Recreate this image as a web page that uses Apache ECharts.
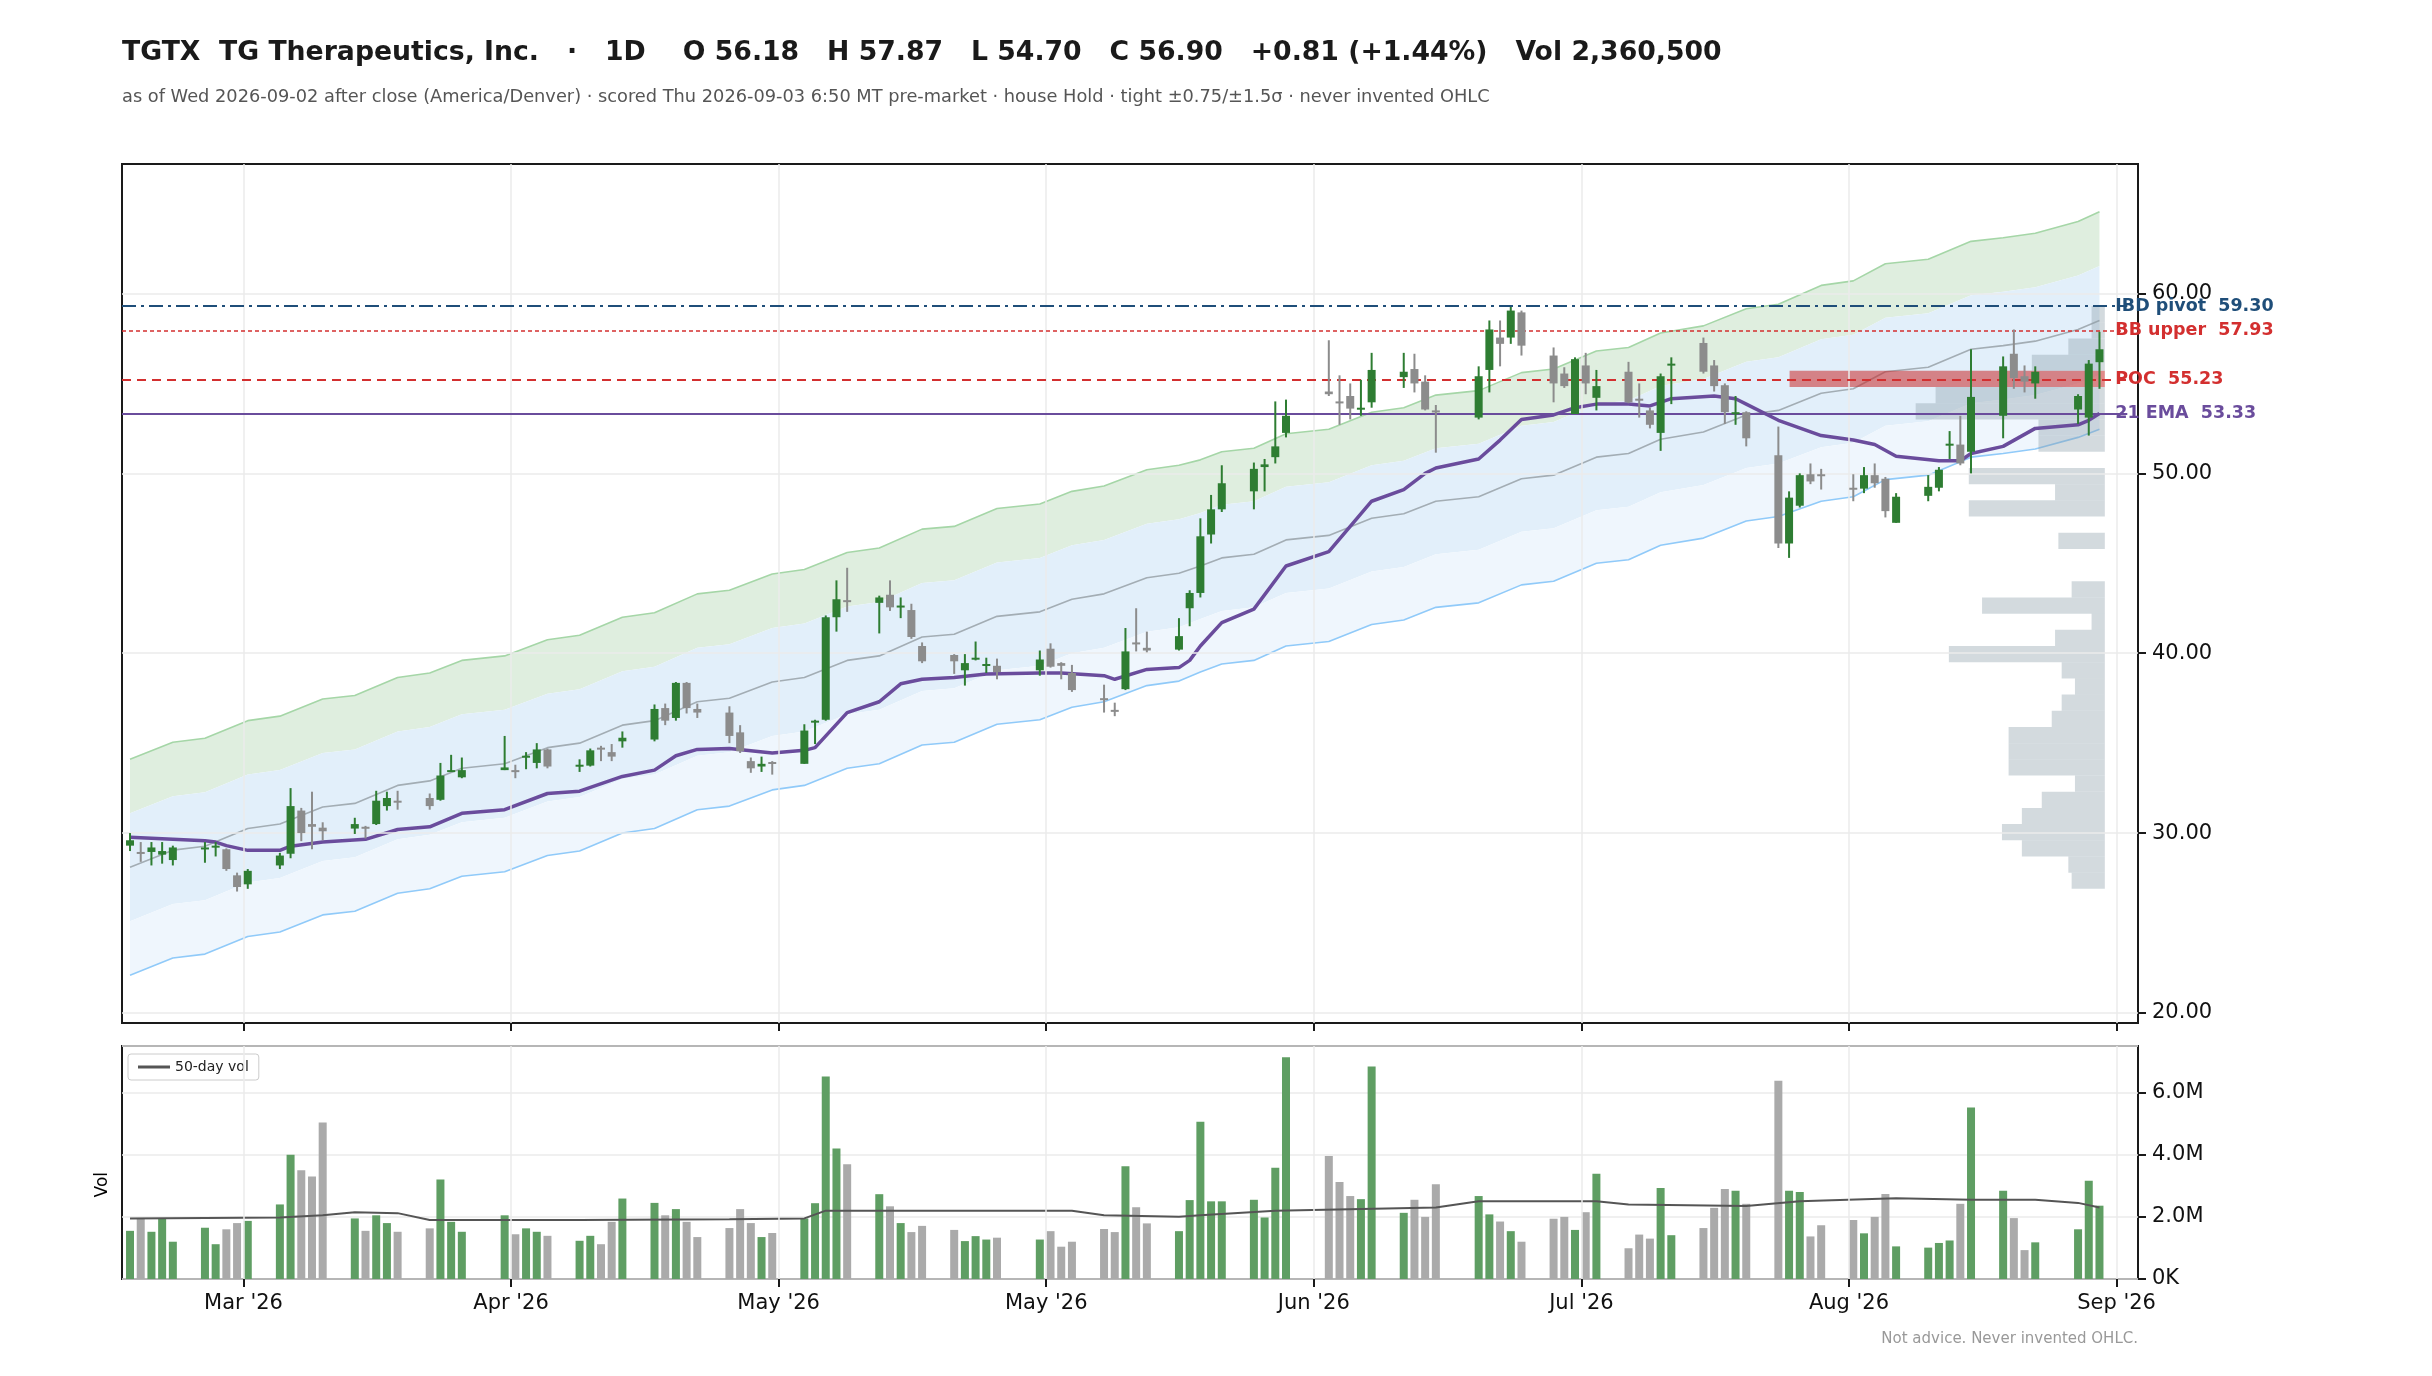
<!DOCTYPE html>
<html><head><meta charset="utf-8">
<script src="https://cdn.jsdelivr.net/npm/echarts@6/dist/echarts.min.js"></script>
<style>html,body{margin:0;padding:0;background:#fff}#c{width:2432px;height:1376px}</style>
</head><body><div id="c"></div>
<script>
// ---- data (day index: 0 = Mon 2026-03-02 ... 184 = Wed 2026-09-02) ----
const days   = [0,1,2,3,4,7,8,9,10,11,14,15,16,17,18,21,22,23,24,25,28,29,30,31,35,36,37,38,39,42,43,44,45,46,49,50,51,52,53,56,57,58,59,60,63,64,65,66,67,70,71,72,73,74,77,78,79,80,81,85,86,87,88,91,92,93,94,95,98,99,100,101,102,105,106,107,108,112,113,114,115,116,119,120,121,122,126,127,128,129,130,133,134,135,136,137,140,141,142,143,144,147,148,149,150,151,154,155,156,157,158,161,162,163,164,165,168,169,170,171,172,175,176,177,178,182,183,184];
const opens  = [29.3,28.95,28.95,28.8,28.5,29.1,29.25,29.1,27.65,27.15,28.2,28.85,31.25,30.5,30.3,30.25,30.35,30.5,31.5,31.8,31.95,31.85,33.4,33.1,33.5,33.5,34.2,33.9,34.65,33.7,33.75,34.75,34.5,35.1,35.2,36.95,36.4,38.35,36.9,36.7,35.6,34.0,33.7,33.95,33.85,36.15,36.3,42.0,42.95,42.8,43.25,42.55,42.4,40.4,39.9,39.05,39.65,39.3,39.3,39.05,40.25,39.45,38.9,37.5,36.85,38.0,40.6,40.3,40.2,42.5,43.35,46.6,48.0,49.0,50.35,50.9,52.25,54.55,54.0,54.3,53.55,53.95,55.35,55.8,55.1,53.5,53.1,55.75,57.55,57.55,58.95,56.55,55.55,53.3,56.0,54.2,55.65,54.15,53.5,52.25,56.05,57.25,56.0,54.9,53.35,53.4,51.0,46.1,48.2,49.95,49.95,49.2,49.15,49.9,49.7,47.25,48.75,49.2,51.6,51.6,51.2,53.2,56.65,55.4,55.0,53.55,53.1,56.18];
const closes = [29.6,28.9,29.2,29.0,29.2,29.2,29.3,28.0,27.0,27.9,28.75,31.5,30.0,30.35,30.1,30.5,30.3,31.8,31.95,31.75,31.5,33.2,33.5,33.5,33.65,33.45,34.3,34.65,33.7,33.8,34.6,34.7,34.25,35.3,36.9,36.25,38.35,36.95,36.7,35.4,34.55,33.6,33.85,33.9,35.7,36.25,42.0,43.0,42.9,43.1,42.55,42.65,40.9,39.55,39.55,39.45,39.75,39.4,38.95,39.65,39.25,39.3,37.95,37.45,36.8,40.1,40.5,40.15,40.95,43.35,46.5,48.0,49.45,50.25,50.5,51.5,53.2,54.4,53.95,53.6,53.65,55.75,55.65,55.0,53.55,53.4,55.4,58.0,57.2,59.05,57.1,55.0,54.85,56.35,55.0,54.85,53.95,54.05,52.7,55.4,56.1,55.65,54.85,53.4,53.4,51.95,46.1,48.65,49.9,49.55,49.85,49.15,49.9,49.45,47.9,48.7,49.25,50.2,51.65,50.55,54.25,55.95,55.3,55.1,55.65,54.3,56.1,56.9];
const lows   = [29.0,28.4,28.2,28.3,28.2,28.35,28.7,27.9,26.75,26.9,28.0,28.6,29.55,29.1,29.6,29.95,29.7,30.45,31.25,31.3,31.3,31.8,33.4,33.05,33.5,33.05,33.55,33.6,33.6,33.4,33.7,34.0,34.0,34.75,35.1,36.0,36.25,36.65,36.4,35.0,34.45,33.35,33.4,33.25,33.85,34.95,36.25,41.2,42.3,41.1,42.35,41.95,40.8,39.45,38.85,38.2,39.6,38.9,38.55,38.75,39.2,38.55,37.85,36.7,36.5,37.95,40.1,40.05,40.15,41.5,43.1,46.1,47.85,48.0,49.0,50.55,52.0,54.3,52.7,53.0,53.2,53.65,54.75,54.5,53.5,51.15,53.0,54.5,55.95,57.2,56.55,53.95,54.75,53.3,54.4,53.5,53.9,53.1,52.5,51.25,53.85,55.55,54.55,52.75,52.7,51.5,45.85,45.3,48.1,49.4,49.1,48.45,48.9,49.2,47.55,47.25,48.45,49.0,50.8,50.45,50.0,51.95,54.7,54.5,54.15,52.75,52.1,54.7];
const highs  = [30.0,29.5,29.5,29.5,29.3,29.5,29.5,29.15,27.8,28.0,28.9,32.5,31.4,32.3,30.6,30.85,30.4,32.35,32.3,32.35,32.2,33.9,34.35,34.2,35.4,33.8,34.5,35.0,34.7,34.1,34.7,34.85,34.95,35.65,37.15,37.2,38.4,38.4,37.2,37.05,36.0,34.2,34.25,34.0,36.05,36.3,42.1,44.05,44.75,43.2,44.05,43.1,42.75,40.6,39.95,39.95,40.65,39.75,39.7,40.15,40.55,39.5,39.35,38.25,37.25,41.4,42.5,41.2,41.95,43.5,47.5,48.8,50.45,50.6,50.8,54.0,54.1,57.4,55.45,55.0,55.2,56.7,56.7,56.65,55.45,53.8,55.95,58.5,58.5,59.25,59.05,57.0,55.9,56.45,56.7,55.75,56.2,55.0,53.65,55.55,56.45,57.55,56.3,55.0,54.3,53.45,52.6,49.0,50.0,50.55,50.25,49.95,50.35,50.55,49.8,48.9,49.9,50.35,52.35,53.2,56.9,56.5,58.0,56.0,55.95,54.4,56.3,57.87];
const volumesM = [1.55,1.95,1.52,1.95,1.2,1.65,1.12,1.6,1.8,1.87,2.4,4.0,3.5,3.3,5.04,1.95,1.55,2.05,1.8,1.52,1.63,3.2,1.84,1.52,2.05,1.44,1.63,1.52,1.39,1.23,1.39,1.12,1.84,2.59,2.45,2.05,2.25,1.84,1.35,1.64,2.25,1.8,1.35,1.48,1.95,2.44,6.52,4.2,3.69,2.73,2.34,1.8,1.51,1.71,1.58,1.22,1.38,1.27,1.33,1.27,1.54,1.04,1.2,1.61,1.51,3.63,2.31,1.79,1.54,2.54,5.06,2.5,2.5,2.55,1.98,3.58,7.14,3.96,3.12,2.67,2.57,6.84,2.13,2.55,2.0,3.05,2.67,2.08,1.85,1.54,1.2,1.94,2.0,1.58,2.15,3.39,0.99,1.43,1.3,2.93,1.41,1.64,2.29,2.9,2.84,2.42,6.38,2.84,2.8,1.37,1.73,1.9,1.47,2.0,2.74,1.05,1.01,1.16,1.24,2.42,5.52,2.84,1.96,0.93,1.18,1.6,3.16,2.36];

const vol50Days = [0,14,18,21,25,28,42,56,63,65,88,91,98,100,107,122,126,137,140,151,156,165,172,178,182,184];
const vol50Vals = [1.95,1.98,2.05,2.15,2.12,1.9,1.9,1.92,1.95,2.2,2.2,2.05,2.0,2.05,2.2,2.3,2.5,2.5,2.4,2.35,2.5,2.6,2.55,2.55,2.45,2.3];

const emaDays = [0,7,8,9,11,14,15,18,22,25,28,31,35,39,42,46,49,51,53,56,60,63,64,67,70,72,74,77,80,85,87,91,92,95,98,99,100,102,105,108,112,116,119,121,122,126,128,130,133,135,137,140,142,144,148,150,151,154,158,161,163,165,169,171,172,175,178,182,183,184];
const emaVals = [29.77,29.57,29.5,29.3,29.04,29.04,29.27,29.5,29.65,30.2,30.35,31.1,31.3,32.2,32.33,33.15,33.5,34.3,34.65,34.7,34.45,34.6,34.75,36.7,37.3,38.3,38.55,38.65,38.85,38.9,38.9,38.75,38.55,39.1,39.2,39.6,40.4,41.7,42.45,44.85,45.65,48.45,49.1,50.0,50.3,50.8,51.85,53.0,53.25,53.65,53.85,53.85,53.75,54.15,54.3,54.15,53.85,52.95,52.1,51.85,51.6,50.95,50.7,50.7,51.1,51.5,52.5,52.7,52.95,53.33];

const bandDays = [0,4,7,11,14,18,21,25,28,31,35,39,42,46,49,53,56,60,63,67,70,74,77,81,85,88,91,95,98,100,102,105,108,112,116,119,122,126,130,133,137,140,143,147,151,154,158,161,164,168,172,175,178,182,184];
const bbMid    = [28.1,29.05,29.27,30.25,30.5,31.45,31.65,32.65,32.9,33.6,33.85,34.75,35.0,36.0,36.25,37.3,37.5,38.4,38.65,39.6,39.85,40.9,41.05,42.05,42.3,43.0,43.3,44.2,44.45,44.85,45.3,45.5,46.3,46.55,47.5,47.75,48.45,48.7,49.7,49.9,50.9,51.1,51.9,52.3,53.25,53.5,54.45,54.7,55.65,55.9,56.9,57.1,57.35,58.0,58.5];
const bbHalf   = [6.0,6.0,6.0,6.0,6.0,6.0,6.0,6.0,6.0,6.0,6.0,6.0,6.0,6.0,6.0,6.0,6.0,6.0,6.0,6.0,6.0,6.0,6.0,6.0,6.0,6.0,6.0,6.0,6.0,5.9,5.9,5.9,5.9,5.9,5.9,5.9,5.9,5.9,5.9,5.9,5.9,5.9,5.9,5.9,5.9,5.9,6.0,6.0,6.0,6.0,6.0,6.0,6.0,6.0,6.05];

const profBinLow = [26.9,27.8,28.7,29.6,30.5,31.4,32.3,33.2,34.1,35.0,35.9,36.8,37.7,38.6,39.5,40.4,41.3,42.2,43.1,44.0,44.9,45.8,46.7,47.6,48.5,49.4,50.3,51.2,52.1,53.0,53.9,54.8,55.7,56.6,57.5,58.4];
const profVol    = [10,11,25,31,25,19,9,29,29,29,16,13,9,13,47,15,4,37,10,0,0,14,0,41,15,41,0,20,20,57,51,95,22,11,4,4];
const profBinSize = 0.9;
const pocPrice = 55.23;

const levels = [
  {name:'IBD pivot', value:59.30, color:'#1f4e79', type:[14,5,3,5], width:2.2},
  {name:'BB upper',  value:57.93, color:'#d32f2f', type:[4,3], width:1.6},
  {name:'POC',       value:55.23, color:'#d32f2f', type:[9,6], width:2.2},
  {name:'21 EMA',    value:53.33, color:'#6a4c9c', type:'solid', width:2}
];

const xTickDays = [10.6,35.6,60.6,85.6,110.6,135.6,160.6,185.6];
const xTickLabels = ["Mar '26","Apr '26","May '26","May '26","Jun '26","Jul '26","Aug '26","Sep '26"];
const priceTicks = [20,30,40,50,60];

const title = 'TGTX  TG Therapeutics, Inc.   ·   1D    O 56.18   H 57.87   L 54.70   C 56.90   +0.81 (+1.44%)   Vol 2,360,500';
const subtitle = 'as of Wed 2026-09-02 after close (America/Denver) · scored Thu 2026-09-03 6:50 MT pre-market · house Hold · tight ±0.75/±1.5σ · never invented OHLC';

// ---- build ----
const FONT = 'DejaVu Sans';
const GREEN = '#2e7d32', GRAY = '#8c8c8c';
const candleData = days.map((d,i)=>[d,opens[i],closes[i],lows[i],highs[i]]);
const volData = days.map((d,i)=>[d,volumesM[i],closes[i]>=opens[i]?1:0]);
const XMIN = -0.75, XMAX = 187.6;
const profRight = 184.5, profScale = 0.31;

const chart = echarts.init(document.getElementById('c'), null, {renderer:'canvas'});

function bandPoly(api, upFn, loFn){
  const pts=[];
  for(let i=0;i<bandDays.length;i++) pts.push(api.coord([bandDays[i], upFn(i)]));
  for(let i=bandDays.length-1;i>=0;i--) pts.push(api.coord([bandDays[i], loFn(i)]));
  return pts;
}

const gridLineStyle = {color:'#ebebeb', width:1.5, type:'solid'};
const tickStyle = {color:'#1a1a1a', width:2};

const option = {
  animation:false,
  backgroundColor:'#fff',
  textStyle:{fontFamily:FONT},
  graphic:[
    {type:'text', left:122, top:40, style:{text:title, font:'bold 26.7px "DejaVu Sans"', fill:'#1a1a1a'}},
    {type:'text', left:122, top:88, style:{text:subtitle, font:'17.8px "DejaVu Sans"', fill:'#555'}},
    {type:'text', right:294, top:1332, style:{text:'Not advice. Never invented OHLC.', font:'15px "DejaVu Sans"', fill:'#999', align:'right'}},
    {type:'text', left:94, top:1172, rotation:Math.PI/2, style:{text:'Vol', font:'17px "DejaVu Sans"', fill:'#000', align:'center', verticalAlign:'middle'}}
  ],
  legend:{data:['50-day vol'], left:128, top:1054, itemWidth:32, itemHeight:3, icon:'rect',
    textStyle:{fontSize:14, color:'#222', fontFamily:FONT}, borderColor:'#ccc', borderWidth:1, padding:[6,10], borderRadius:3},
  grid:[
    {left:122, right:294, top:164, height:859, show:true, borderColor:'#1a1a1a', borderWidth:2, backgroundColor:'transparent'},
    {left:122, right:294, top:1046, height:233, show:true, borderColor:'#1a1a1a', borderWidth:2, backgroundColor:'transparent'}
  ],
  xAxis:[
    {type:'value', gridIndex:0, min:XMIN, max:XMAX, splitLine:{show:false},
      axisLine:{show:false, onZero:false}, axisLabel:{show:false, customValues:xTickDays},
      axisTick:{show:true, customValues:xTickDays, length:8, lineStyle:tickStyle}},
    {type:'value', gridIndex:1, min:XMIN, max:XMAX, splitLine:{show:false}, axisLine:{show:false, onZero:false},
      axisTick:{show:true, customValues:xTickDays, length:8, lineStyle:tickStyle},
      axisLabel:{customValues:xTickDays, fontSize:21, color:'#111', margin:14, fontFamily:FONT,
        formatter:(v)=>{const i=xTickDays.findIndex(t=>Math.abs(t-v)<0.01);return i>=0?xTickLabels[i]:'';}}}
  ],
  yAxis:[
    {type:'value', gridIndex:0, position:'right', min:19.44, max:67.2, splitLine:{show:false}, axisLine:{show:false, onZero:false},
      axisTick:{show:true, customValues:priceTicks, length:8, lineStyle:tickStyle},
      axisLabel:{customValues:priceTicks, fontSize:21, color:'#111', margin:14, fontFamily:FONT, formatter:(v)=>v.toFixed(2)}},
    {type:'value', gridIndex:1, position:'right', min:0, max:7.5, interval:2, splitLine:{show:true, lineStyle:gridLineStyle},
      axisLine:{show:false, onZero:false}, axisTick:{show:true, length:8, lineStyle:tickStyle},
      axisLabel:{fontSize:21, color:'#111', margin:14, fontFamily:FONT, showMaxLabel:false,
        formatter:(v)=>v===0?'0K':(v>7?'':v.toFixed(1)+'M')}}
  ],
  series:[
    {type:'line', xAxisIndex:0, yAxisIndex:0, data:[], z:0, silent:true,
      markLine:{silent:true, symbol:'none', label:{show:false}, lineStyle:gridLineStyle, animation:false,
        data: priceTicks.map(v=>({yAxis:v})).concat(xTickDays.map(v=>({xAxis:v})))}},
    {type:'line', xAxisIndex:1, yAxisIndex:1, data:[], z:0, silent:true,
      markLine:{silent:true, symbol:'none', label:{show:false}, lineStyle:gridLineStyle, animation:false,
        data: xTickDays.map(v=>({xAxis:v}))}},
    {type:'custom', xAxisIndex:0, yAxisIndex:0, z:1, silent:true, data:[[0,30]],
      renderItem:(params, api)=>({type:'group', children:[
        {type:'polygon', shape:{points:bandPoly(api,i=>bbMid[i]+bbHalf[i],i=>bbMid[i]+bbHalf[i]/2)}, style:{fill:'#dfeedf'}},
        {type:'polygon', shape:{points:bandPoly(api,i=>bbMid[i]+bbHalf[i]/2,i=>bbMid[i]-bbHalf[i]/2)}, style:{fill:'#e2effa'}},
        {type:'polygon', shape:{points:bandPoly(api,i=>bbMid[i]-bbHalf[i]/2,i=>bbMid[i]-bbHalf[i])}, style:{fill:'#eff6fd'}}
      ]})},
    {type:'line', xAxisIndex:0, yAxisIndex:0, z:2, symbol:'none', silent:true,
      data:bandDays.map((d,i)=>[d,bbMid[i]+bbHalf[i]]), lineStyle:{color:'#a5d6a7', width:1.6}},
    {type:'line', xAxisIndex:0, yAxisIndex:0, z:2, symbol:'none', silent:true,
      data:bandDays.map((d,i)=>[d,bbMid[i]]), lineStyle:{color:'#a3adb4', width:1.6}},
    {type:'line', xAxisIndex:0, yAxisIndex:0, z:2, symbol:'none', silent:true,
      data:bandDays.map((d,i)=>[d,bbMid[i]-bbHalf[i]]), lineStyle:{color:'#90caf9', width:1.6}},
    {type:'custom', xAxisIndex:0, yAxisIndex:0, z:3, silent:true,
      data:profBinLow.map((p,i)=>[p, profVol[i]]),
      renderItem:(params, api)=>{
        const lo=api.value(0), v=api.value(1);
        if(!v) return null;
        const hi=lo+profBinSize;
        const a=api.coord([profRight - v*profScale, hi]);
        const b=api.coord([profRight, lo]);
        const isPoc = pocPrice>=lo && pocPrice<hi;
        return {type:'rect', shape:{x:a[0], y:a[1], width:b[0]-a[0], height:b[1]-a[1]},
          style:{fill: isPoc ? 'rgba(200,40,40,0.55)' : 'rgba(140,158,168,0.38)'}};
      }},
    {type:'line', xAxisIndex:0, yAxisIndex:0, z:4, symbol:'none', silent:true,
      data:emaDays.map((d,i)=>[d,emaVals[i]]), lineStyle:{color:'#6a4c9c', width:3.5}},
    {type:'line', xAxisIndex:0, yAxisIndex:0, z:5, data:[], silent:true,
      markLine:{silent:true, symbol:'none', animation:false,
        data: levels.map(l=>[{coord:[XMIN,l.value]},{coord:[186.6,l.value],
          lineStyle:{color:l.color, type:l.type, width:l.width},
          label:{show:true, position:'end', distance:-12, formatter:l.name+'  '+l.value.toFixed(2),
            color:l.color, fontWeight:'bold', fontSize:17.5, fontFamily:FONT}}])}},
    {type:'custom', xAxisIndex:0, yAxisIndex:0, z:6, silent:true, data:candleData,
      encode:{x:0, y:[1,2,3,4]},
      renderItem:(params, api)=>{
        const d=api.value(0), o=api.value(1), c=api.value(2), l=api.value(3), h=api.value(4);
        const col = c>=o ? GREEN : GRAY;
        const pl=api.coord([d,l]), ph=api.coord([d,h]), po=api.coord([d,o]), pc=api.coord([d,c]);
        const w=8, top=Math.min(po[1],pc[1]), ht=Math.max(Math.abs(po[1]-pc[1]),2);
        return {type:'group', children:[
          {type:'line', shape:{x1:pl[0],y1:pl[1],x2:ph[0],y2:ph[1]}, style:{stroke:col, lineWidth:2}},
          {type:'rect', shape:{x:po[0]-w/2, y:top, width:w, height:ht}, style:{fill:col}}
        ]};
      }},
    {type:'custom', xAxisIndex:1, yAxisIndex:1, z:3, silent:true, data:volData,
      encode:{x:0, y:1},
      renderItem:(params, api)=>{
        const d=api.value(0), v=api.value(1), up=api.value(2);
        const a=api.coord([d,v]), b=api.coord([d,0]);
        return {type:'rect', shape:{x:a[0]-4, y:a[1], width:8, height:b[1]-a[1]},
          style:{fill: up ? '#5f9e63' : '#aaaaaa'}};
      }},
    {name:'50-day vol', type:'line', xAxisIndex:1, yAxisIndex:1, z:4, symbol:'none', silent:true,
      data:vol50Days.map((d,i)=>[d,vol50Vals[i]]), lineStyle:{color:'#555', width:2}, itemStyle:{color:'#555'}}
  ]
};
chart.setOption(option);
</script></body></html>
